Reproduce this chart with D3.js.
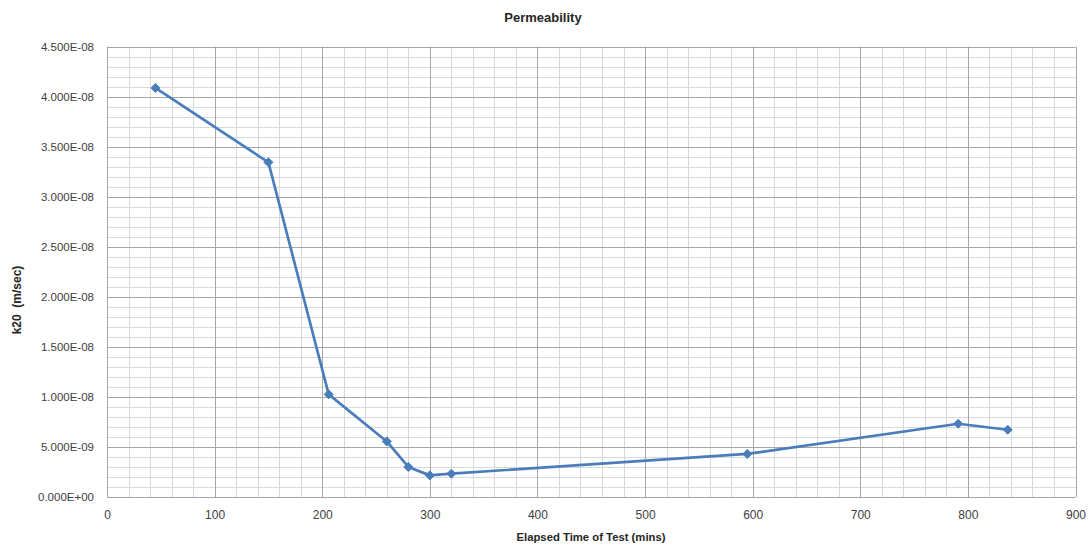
<!DOCTYPE html>
<html>
<head>
<meta charset="utf-8">
<script src="https://cdn.jsdelivr.net/npm/d3@7"></script>
<style>
  html, body { margin: 0; padding: 0; background: #fff; }
  svg { display: block; font-family: "Liberation Sans", Arial, sans-serif; }
</style>
</head>
<body>
<svg id="chart" width="1090" height="545"></svg>
<script>
// Elapsed time of test (mins) and measured permeability k20 (m/sec)
const elapsedMins = [45, 150, 206, 260, 280, 300, 320, 595, 791, 837];
const k20Values = [4.086e-8, 3.343e-8, 1.025e-8, 5.55e-9, 3.0e-9, 2.16e-9, 2.33e-9, 4.3e-9, 7.32e-9, 6.72e-9];

const xTicks = [0, 100, 200, 300, 400, 500, 600, 700, 800, 900];
const yTicks = [0, 5e-9, 1e-8, 1.5e-8, 2e-8, 2.5e-8, 3e-8, 3.5e-8, 4e-8, 4.5e-8];

const chartTitle = "Permeability";
const xTitle = "Elapsed Time of Test (mins)";
const yTitle = "k20  (m/sec)";

const svg = d3.select("#chart");
const plot = { left: 107, right: 1075.5, top: 46.5, bottom: 497 };

const x = d3.scaleLinear().domain([0, 900]).range([plot.left, plot.right]);
const y = d3.scaleLinear().domain([0, 4.5e-8]).range([plot.bottom, plot.top]);

// minor grid: every 20 mins and every 1E-09
const xMinor = d3.range(0, 901, 20).filter(v => v % 100 !== 0);
const yMinor = d3.range(0, 46).map(i => i * 1e-9).filter((v, i) => i % 5 !== 0);

const grid = svg.append("g");
grid.selectAll(".xmin").data(xMinor).join("line")
  .attr("x1", d => Math.round(x(d)) + 0.5).attr("x2", d => Math.round(x(d)) + 0.5)
  .attr("y1", plot.top).attr("y2", plot.bottom)
  .attr("stroke", "#d9d9d9").attr("stroke-width", 1);
grid.selectAll(".ymin").data(yMinor).join("line")
  .attr("y1", d => Math.round(y(d)) + 0.5).attr("y2", d => Math.round(y(d)) + 0.5)
  .attr("x1", plot.left).attr("x2", plot.right)
  .attr("stroke", "#d9d9d9").attr("stroke-width", 1);
grid.selectAll(".xmaj").data(xTicks).join("line")
  .attr("x1", d => Math.round(x(d)) + 0.5).attr("x2", d => Math.round(x(d)) + 0.5)
  .attr("y1", plot.top).attr("y2", plot.bottom)
  .attr("stroke", "#a6a6a6").attr("stroke-width", 1);
grid.selectAll(".ymaj").data(yTicks).join("line")
  .attr("y1", d => Math.round(y(d)) + 0.5).attr("y2", d => Math.round(y(d)) + 0.5)
  .attr("x1", plot.left).attr("x2", plot.right)
  .attr("stroke", "#a6a6a6").attr("stroke-width", 1);

// axes
const fmtY = d => {
  const s = d3.format(".3e")(d);               // e.g. 4.500e-8
  const [m, e] = s.split("e");
  const n = parseInt(e, 10);
  const sign = n < 0 ? "-" : "+";
  return m + "E" + sign + String(Math.abs(n)).padStart(2, "0");
};

const yAxis = svg.append("g")
  .attr("transform", `translate(${plot.left},0)`)
  .call(d3.axisLeft(y).tickValues(yTicks).tickFormat(fmtY).tickSize(0).tickPadding(13));
yAxis.select(".domain").remove();
yAxis.selectAll("text").attr("font-size", 11.5).attr("fill", "#404040")
  .attr("font-family", "Liberation Sans, Arial, sans-serif");

const xAxis = svg.append("g")
  .attr("transform", `translate(0,${plot.bottom})`)
  .call(d3.axisBottom(x).tickValues(xTicks).tickFormat(d3.format("d")).tickSize(0).tickPadding(13));
xAxis.select(".domain").remove();
xAxis.selectAll("text").attr("font-size", 12).attr("fill", "#404040")
  .attr("font-family", "Liberation Sans, Arial, sans-serif");

// series line and diamond markers
const pts = elapsedMins.map((t, i) => ({ t, k: k20Values[i] }));
svg.append("path")
  .datum(pts)
  .attr("fill", "none")
  .attr("stroke", "#4a7ebb")
  .attr("stroke-width", 2.7)
  .attr("stroke-linejoin", "round")
  .attr("d", d3.line().x(d => x(d.t)).y(d => y(d.k)));

svg.selectAll(".marker").data(pts).join("path")
  .attr("transform", d => `translate(${x(d.t)},${y(d.k)})`)
  .attr("d", d3.symbol().type(d3.symbolDiamond2).size(52))
  .attr("fill", "#4a7ebb")
  .attr("stroke", "#4a7ebb")
  .attr("stroke-width", 1);

// titles
svg.append("text")
  .attr("x", 543).attr("y", 22)
  .attr("text-anchor", "middle")
  .attr("font-size", 13).attr("font-weight", "bold").attr("fill", "#262626")
  .text(chartTitle);

svg.append("text")
  .attr("x", 591).attr("y", 541)
  .attr("text-anchor", "middle")
  .attr("font-size", 11.3).attr("font-weight", "bold").attr("fill", "#262626")
  .text(xTitle);

svg.append("text")
  .attr("transform", "translate(21,300) rotate(-90)")
  .attr("text-anchor", "middle")
  .attr("font-size", 12).attr("font-weight", "bold").attr("fill", "#262626")
  .attr("xml:space", "preserve")
  .style("white-space", "pre")
  .text(yTitle);
</script>
</body>
</html>
